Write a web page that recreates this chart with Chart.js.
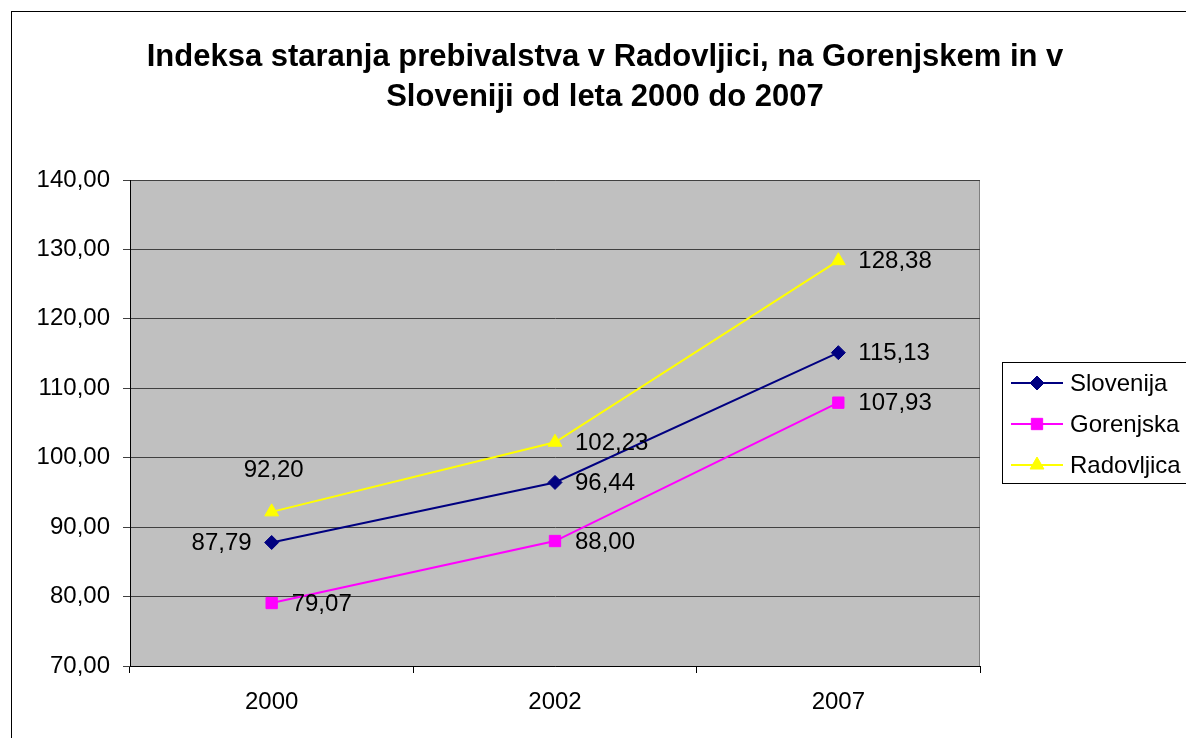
<!DOCTYPE html>
<html>
<head>
<meta charset="utf-8">
<script src="https://cdn.jsdelivr.net/npm/chart.js@4"></script>
<style>
  body { margin: 0; background: #fff; }
  canvas { display: block; }
</style>
</head>
<body>
<canvas id="indeksChart" width="1186" height="738"></canvas>
<script>
// podatki
const years = ['2000', '2002', '2007'];
const slovenija = [87.79, 96.44, 115.13];
const gorenjska = [79.07, 88.00, 107.93];
const radovljica = [92.20, 102.23, 128.38];
const yTicks = [70, 80, 90, 100, 110, 120, 130, 140];
const titleLines = ['Indeksa staranja prebivalstva v Radovljici, na Gorenjskem in v', 'Sloveniji od leta 2000 do 2007'];

// kje stoji oznaka vrednosti pri vsaki točki
const labelPlace = [
  ['left', 'right', 'right'],
  ['right', 'right', 'right'],
  ['above', 'right', 'right']
];

const fmt = v => v.toFixed(2).replace('.', ',');
const FONT = '"Liberation Sans", Arial, sans-serif';

Chart.defaults.font.family = FONT;
Chart.defaults.color = '#000';

// okvir, naslov in ozadje grafa
const frame = {
  id: 'frame',
  beforeDraw(chart) {
    const c = chart.ctx, a = chart.chartArea;
    c.save();
    c.fillStyle = '#fff';
    c.fillRect(0, 0, chart.width, chart.height);
    c.strokeStyle = '#000';
    c.lineWidth = 1;
    c.strokeRect(11.5, 11.5, chart.width, chart.height);
    c.fillStyle = '#C0C0C0';
    c.fillRect(a.left, a.top, a.right - a.left, a.bottom - a.top);
    c.strokeStyle = '#808080';
    c.beginPath();
    c.moveTo(a.left, a.top + 0.5);
    c.lineTo(a.right - 0.5, a.top + 0.5);
    c.lineTo(a.right - 0.5, a.bottom);
    c.stroke();
    c.fillStyle = '#000';
    c.font = 'bold 31px ' + FONT;
    c.textAlign = 'center';
    c.textBaseline = 'middle';
    titleLines.forEach((t, i) => c.fillText(t, 605, 57 + i * 40));
    c.restore();
  },
  afterDatasetsDraw(chart) {
    const c = chart.ctx;
    c.save();
    c.font = '24px ' + FONT;
    c.fillStyle = '#000';
    c.textBaseline = 'middle';
    chart.data.datasets.forEach((ds, di) => {
      chart.getDatasetMeta(di).data.forEach((pt, i) => {
        const txt = fmt(ds.data[i]);
        const where = labelPlace[di][i];
        if (where === 'right') {
          c.textAlign = 'left';
          c.fillText(txt, pt.x + 20, pt.y + 1);
        } else if (where === 'left') {
          c.textAlign = 'right';
          c.fillText(txt, pt.x - 20, pt.y + 1);
        } else {
          c.textAlign = 'center';
          c.fillText(txt, pt.x + 2, pt.y - 41);
        }
      });
    });
    // legenda
    const lx = 1002, ly = 362, lh = 121;
    c.strokeStyle = '#000';
    c.lineWidth = 1;
    c.fillStyle = '#fff';
    c.fillRect(lx, ly, chart.width - lx + 5, lh);
    c.strokeRect(lx + 0.5, ly + 0.5, chart.width, lh);
    chart.data.datasets.forEach((ds, di) => {
      const y = 383 + di * 41;
      c.strokeStyle = ds.borderColor;
      c.lineWidth = 2;
      c.beginPath();
      c.moveTo(1011, y);
      c.lineTo(1063, y);
      c.stroke();
      c.fillStyle = ds.pointBackgroundColor;
      c.strokeStyle = ds.borderColor;
      c.lineWidth = 1;
      Chart.helpers.drawPoint(c, {pointStyle: ds.pointStyle, radius: ds.pointRadius, borderWidth: 1}, 1037, y);
      c.fillStyle = '#000';
      c.textAlign = 'left';
      c.font = '24px ' + FONT;
      c.fillText(ds.label, 1070, y + 1);
    });
    c.restore();
  }
};

function series(label, data, color, style, r) {
  return {
    label: label,
    data: data,
    borderColor: color,
    backgroundColor: color,
    pointBackgroundColor: color,
    pointBorderColor: color,
    pointStyle: style,
    pointRadius: r,
    pointBorderWidth: 1,
    borderWidth: 2,
    tension: 0
  };
}

const ctx = document.getElementById('indeksChart').getContext('2d');
const chart = new Chart(ctx, {
  type: 'line',
  data: {
    labels: years,
    datasets: [
      series('Slovenija', slovenija, '#000080', 'rectRot', 7),
      series('Gorenjska', gorenjska, '#FF00FF', 'rect', 8),
      series('Radovljica', radovljica, '#FFFF00', 'triangle', 8)
    ]
  },
  options: {
    responsive: false,
    animation: false,
    layout: { padding: { top: 180, right: 206, left: 0, bottom: 0 } },
    plugins: {
      legend: { display: false },
      title: { display: false },
      tooltip: { enabled: false }
    },
    scales: {
      x: {
        offset: true,
        grid: { offset: true, drawOnChartArea: false, drawTicks: true, tickLength: 7, color: '#000' },
        border: { color: '#000', width: 1 },
        ticks: { font: { size: 24 }, padding: 15, color: '#000' },
        afterFit(s) { s.height = 72; }
      },
      y: {
        min: 70,
        max: 140,
        afterBuildTicks(s) { s.ticks = yTicks.map(v => ({ value: v })); },
        grid: { color: '#404040', tickLength: 7, drawTicks: true },
        border: { color: '#000', width: 1 },
        ticks: { font: { size: 24 }, padding: 13, color: '#000', callback: v => fmt(v) },
        afterFit(s) { s.width = 130; }
      }
    }
  },
  plugins: [frame]
});
</script>
</body>
</html>
